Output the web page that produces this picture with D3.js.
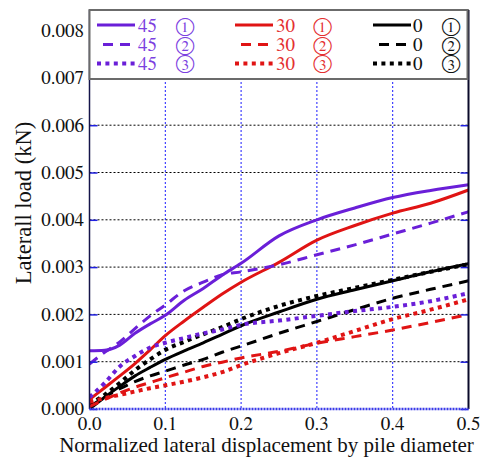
<!DOCTYPE html>
<html>
<head>
<meta charset="utf-8">
<script src="https://cdn.jsdelivr.net/npm/d3@7"></script>
<style>
  html, body { margin: 0; padding: 0; background: #fff; }
  svg { display: block; }
</style>
</head>
<body>
<svg id="chart" width="484" height="459" lang="en"></svg>
<script>
// Normalized lateral displacement (x) sample positions
const displacement = [0, 0.02, 0.04, 0.06, 0.08, 0.1, 0.125, 0.15, 0.175, 0.2, 0.25, 0.3, 0.35, 0.4, 0.45, 0.5];

// Lateral load (kN) for each case
const load45_1 = [0.00123, 0.00124, 0.00135, 0.0016, 0.0018, 0.00198, 0.0023, 0.00255, 0.00283, 0.00308, 0.00366, 0.004, 0.00425, 0.00447, 0.00462, 0.00474];
const load45_2 = [0.00095, 0.0012, 0.00142, 0.0017, 0.00197, 0.0022, 0.0025, 0.00268, 0.00284, 0.0029, 0.00305, 0.00326, 0.00347, 0.0037, 0.00393, 0.00417];
const load45_3 = [0.00025, 0.00055, 0.0009, 0.00112, 0.0013, 0.0014, 0.0015, 0.0016, 0.00168, 0.00178, 0.00187, 0.00197, 0.00207, 0.00216, 0.00228, 0.00245];
const load30_1 = [0.0002, 0.00045, 0.0007, 0.00096, 0.00125, 0.00155, 0.00186, 0.00215, 0.00243, 0.00268, 0.0031, 0.00357, 0.00388, 0.00414, 0.00435, 0.00463];
const load30_2 = [0.00005, 0.0002, 0.00034, 0.00046, 0.00056, 0.00066, 0.00078, 0.0009, 0.00099, 0.00108, 0.00122, 0.00139, 0.00153, 0.00167, 0.00183, 0.002];
const load30_3 = [0.00015, 0.00023, 0.0003, 0.00037, 0.00044, 0.0005, 0.00058, 0.00067, 0.00078, 0.00093, 0.00118, 0.0014, 0.00165, 0.0019, 0.0021, 0.00232];
const load0_1 = [0, 0.00025, 0.00048, 0.0007, 0.00088, 0.00105, 0.00123, 0.0014, 0.00158, 0.00176, 0.00205, 0.00232, 0.00252, 0.00271, 0.0029, 0.00307];
const load0_2 = [0.00005, 0.00025, 0.00043, 0.00058, 0.0007, 0.0008, 0.00093, 0.00105, 0.0012, 0.00133, 0.0016, 0.00185, 0.0021, 0.00234, 0.00253, 0.00271];
const load0_3 = [0.0001, 0.0003, 0.00055, 0.00082, 0.00105, 0.00125, 0.00142, 0.00158, 0.00173, 0.0019, 0.00218, 0.00239, 0.00256, 0.00273, 0.0029, 0.00306];

// Legend labels and axis ticks
const angleLabels = ["45", "30", "0"];
const caseLabels = ["①", "②", "③"];
const xTicks = [0, 0.1, 0.2, 0.3, 0.4, 0.5];
const yTicks = [0, 0.001, 0.002, 0.003, 0.004, 0.005, 0.006, 0.007, 0.008];

const xTitle = "Normalized lateral displacement by pile diameter";
const yTitle = "Laterall load (kN)";

const SERIF = '"Liberation Serif", "FreeSerif", "Times New Roman", serif';
const NUMERIC = '"FreeSerif", "Liberation Serif", serif';
const CIRC = '"FreeSerif", "Liberation Serif", serif';
// small labels are set at 22px and scaled down to their drawn size
const SMALL_PX = 22;

// Series table built from the arrays above
const colors = { "45": "#6a1fd8", "30": "#e01414", "0": "#000000" };
const textColors = { "45": "#7b40e0", "30": "#e43030", "0": "#111111" };
const dashes = ["none", "10,7", "4,4.4"];
const widths = [3, 3, 4];
const loads = [[load45_1, load45_2, load45_3], [load30_1, load30_2, load30_3], [load0_1, load0_2, load0_3]];
const series = [];
angleLabels.forEach((a, i) => caseLabels.forEach((c, j) => series.push({ angle: a, idx: j, values: loads[i][j] })));

const svg = d3.select("#chart");
const plotLeft = 89.5, plotRight = 468.5, plotBottom = 409, plotTop = 10;

const x = d3.scaleLinear().domain([0, 0.5]).range([plotLeft, plotRight]);
const y = d3.scaleLinear().domain([0, 0.008]).range([plotBottom, 30.6]);

// Text helper: label anchored at (px, py), drawn at a given size
function label(parent, px, py, str, size, anchor, family, fill) {
  const k = size / SMALL_PX;
  return parent.append("text")
    .attr("transform", `translate(${px},${py}) scale(${k})`)
    .attr("text-anchor", anchor)
    .style("font-family", family).style("font-size", SMALL_PX + "px")
    .attr("fill", fill).text(str);
}

// Grid lines
const grid = svg.append("g");
grid.selectAll("line.h").data(yTicks.filter(v => v > 0)).join("line")
  .attr("x1", plotLeft).attr("x2", plotRight)
  .attr("y1", d => y(d)).attr("y2", d => y(d))
  .attr("stroke", "#000").attr("stroke-width", 1).attr("stroke-dasharray", "2,2");
grid.selectAll("line.v").data(xTicks.filter(v => v > 0 && v < 0.5)).join("line")
  .attr("x1", d => x(d)).attr("x2", d => x(d))
  .attr("y1", plotTop).attr("y2", plotBottom)
  .attr("stroke", "#1a1aff").attr("stroke-width", 1).attr("stroke-dasharray", "2,2");

// Clip for the data lines
svg.append("clipPath").attr("id", "plotclip")
  .append("rect").attr("x", plotLeft).attr("y", plotTop).attr("width", plotRight - plotLeft).attr("height", plotBottom - plotTop);

const line = d3.line()
  .x((d, i) => x(displacement[i]))
  .y(d => y(d))
  .curve(d3.curveMonotoneX);

const lines = svg.append("g").attr("clip-path", "url(#plotclip)");
// draw black, then red, then purple on top
[...series].reverse().forEach(s => {
  lines.append("path")
    .attr("d", line(s.values))
    .attr("fill", "none")
    .attr("stroke", colors[s.angle])
    .attr("stroke-width", widths[s.idx])
    .attr("stroke-dasharray", dashes[s.idx]);
});

// Axes (tick marks only; labels are placed as text below)
const gy = svg.append("g").attr("transform", `translate(${plotLeft},0)`)
  .call(d3.axisLeft(y).tickValues(yTicks).tickFormat("").tickSize(-8));
gy.select(".domain").remove();
gy.selectAll(".tick line").attr("stroke", "#2020e0").attr("stroke-width", 1.5);

const gyr = svg.append("g").attr("transform", `translate(${plotRight},0)`)
  .call(d3.axisRight(y).tickValues(yTicks).tickFormat("").tickSize(-8));
gyr.select(".domain").remove();
gyr.selectAll(".tick line").attr("stroke", "#2020e0").attr("stroke-width", 1.5);

const fmtY = d3.format(".3f"), fmtX = d3.format(".1f");
const tickLabels = svg.append("g");
yTicks.forEach(v => label(tickLabels, plotLeft - 5.5, y(v) + 6.3, fmtY(v), 19, "end", NUMERIC, "#111"));
xTicks.forEach(v => label(tickLabels, x(v), plotBottom + 21, fmtX(v), 19, "middle", NUMERIC, "#111"));

// Frame edges
svg.append("line").attr("x1", plotLeft).attr("x2", plotLeft).attr("y1", plotTop).attr("y2", plotBottom)
  .attr("stroke", "#14144a").attr("stroke-width", 1.5);
svg.append("line").attr("x1", plotRight).attr("x2", plotRight).attr("y1", plotTop).attr("y2", plotBottom)
  .attr("stroke", "#0a0a2a").attr("stroke-width", 2);
svg.append("line").attr("x1", plotLeft).attr("x2", plotRight).attr("y1", plotBottom).attr("y2", plotBottom)
  .attr("stroke", "#3a3ae8").attr("stroke-width", 2.5).attr("stroke-dasharray", "2,1");
svg.append("line").attr("x1", plotLeft).attr("x2", plotRight).attr("y1", plotTop).attr("y2", plotTop)
  .attr("stroke", "#000").attr("stroke-width", 1.5);

// Titles
svg.append("text").attr("x", 266.5).attr("y", 452)
  .attr("text-anchor", "middle").style("font-family", SERIF).style("font-size", "21px")
  .attr("fill", "#111").text(xTitle);
svg.append("text").attr("transform", "translate(31,203) rotate(-90)")
  .attr("text-anchor", "middle").style("font-family", SERIF).style("font-size", "22.5px")
  .attr("fill", "#111").text(yTitle);

// Legend
const lg = svg.append("g");
lg.append("rect").attr("x", plotLeft).attr("y", 10).attr("width", plotRight - plotLeft - 1).attr("height", 69)
  .attr("fill", "#fff").attr("stroke", "#6b6b6b").attr("stroke-width", 2);
const colX = [97, 235, 373];
const rowY = [25, 44.5, 63.5];
const labelX = [138, 276, 413];
const circX = [185, 322.5, 451];
angleLabels.forEach((a, i) => {
  caseLabels.forEach((c, j) => {
    const x0 = colX[i], yy = rowY[j];
    lg.append("line").attr("x1", x0).attr("x2", x0 + 38).attr("y1", yy).attr("y2", yy)
      .attr("stroke", colors[a]).attr("stroke-width", widths[j])
      .attr("stroke-dasharray", dashes[j])
      .attr("stroke-dashoffset", j === 1 ? 11 : 0);
    label(lg, labelX[i], yy + 6.8, a, 19, "start", NUMERIC, textColors[a]);
    lg.append("text").attr("x", circX[i]).attr("y", yy + 6.5)
      .attr("text-anchor", "middle").style("font-family", CIRC).style("font-size", "20px")
      .attr("fill", textColors[a]).text(c);
  });
});
</script>
</body>
</html>
